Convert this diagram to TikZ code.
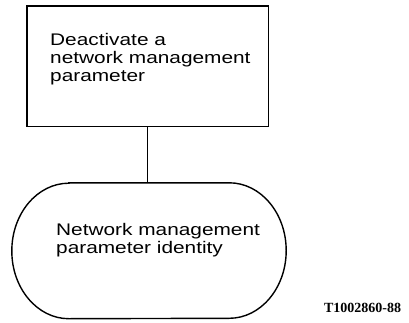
\documentclass[tikz,border=0pt]{standalone}
\usepackage{fontspec}
\newfontfamily\hv[FakeStretch=1.24]{Liberation Sans}
\newfontfamily\tmsb{Liberation Serif}
\begin{document}
\begin{tikzpicture}[x=1pt,y=1pt,
  boxshape/.style={draw, line width=1.4pt, minimum width=241.5pt, minimum height=120.5pt, inner sep=0pt},
  txt/.style={font=\hv\fontsize{16.8}{18}\selectfont, align=left, inner sep=0pt},
  stad/.style={minimum width=160pt, minimum height=135.5pt, inner sep=0pt},
  edge/.style={line width=1.4pt}
]
\useasboundingbox (0,0) rectangle (409,322);
\node[boxshape] (box) at (147.75,255.75) {};
\node[txt, anchor=base west] (boxtext) at (50,240.3) {Deactivate a\\network management\\parameter};
\node[stad] (stadium) at (149,71.25) {};
\draw[edge] (stadium.north west) -- (stadium.north east)
  arc[start angle=90, end angle=-90, x radius=57pt, y radius=67.75pt]
  -- (stadium.south west)
  arc[start angle=270, end angle=90, x radius=57pt, y radius=67.75pt] -- cycle;
\node[txt, anchor=base west] (stadtext) at (56,69) {Network management\\parameter identity};
\draw[edge] (box.south) -- (box.south |- stadium.north);
\node[font=\tmsb\bfseries\fontsize{14}{16}\selectfont, inner sep=0pt] (ref) at (362.5,14) {T1002860-88};
\end{tikzpicture}
\end{document}
